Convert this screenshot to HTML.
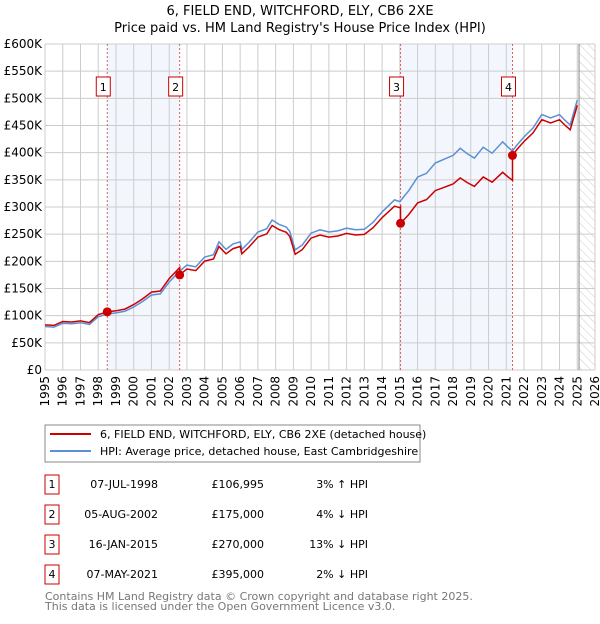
<!DOCTYPE html>
<html><head><meta charset="utf-8"><style>
body{margin:0;background:#fff;font-family:"DejaVu Sans","Liberation Sans",sans-serif}
svg text{font-family:"DejaVu Sans","Liberation Sans",sans-serif}
</style></head><body>
<svg id="c" width="600" height="620" xmlns="http://www.w3.org/2000/svg">
<defs><pattern id="hatch" width="6" height="6" patternUnits="userSpaceOnUse" patternTransform="rotate(-45)"><line x1="0" y1="0" x2="0" y2="6" stroke="#ccc" stroke-width="1"/></pattern></defs>
<text x="300" y="15" text-anchor="middle" font-size="13">6, FIELD END, WITCHFORD, ELY, CB6 2XE</text>
<text x="300" y="32" text-anchor="middle" font-size="13">Price paid vs. HM Land Registry's House Price Index (HPI)</text>
<g id="plot"></g>
<g>
<rect x="45" y="425" width="375" height="37" fill="#fff" stroke="#888"/>
<line x1="50" y1="434" x2="91" y2="434" stroke="#cc0000" stroke-width="2"/>
<text x="100" y="438" font-size="11">6, FIELD END, WITCHFORD, ELY, CB6 2XE (detached house)</text>
<line x1="50" y1="451" x2="91" y2="451" stroke="#5b8fd6" stroke-width="2"/>
<text x="100" y="455" font-size="11">HPI: Average price, detached house, East Cambridgeshire</text>
</g>
<g id="table"></g>
<text x="45" y="600" font-size="11" fill="#777">Contains HM Land Registry data © Crown copyright and database right 2025.</text>
<text x="45" y="610" font-size="11" fill="#777">This data is licensed under the Open Government Licence v3.0.</text>
</svg>
<script>
const hpiYears=[1995,1995.5,1996,1996.5,1997,1997.5,1998,1998.5,1999,1999.5,2000,2000.5,2001,2001.5,2002,2002.6,2003,2003.5,2004,2004.5,2004.8,2005.2,2005.6,2006,2006.1,2006.5,2007,2007.5,2007.8,2008.2,2008.6,2008.8,2009.1,2009.5,2010,2010.5,2011,2011.5,2012,2012.5,2013,2013.5,2014,2014.7,2015,2015.5,2016,2016.5,2017,2017.5,2018,2018.4,2018.8,2019.2,2019.7,2020.2,2020.8,2021.1,2021.35,2021.6,2022,2022.5,2023,2023.5,2024,2024.3,2024.6,2025.0];
const hpiValues=[80,79,86,85,87,84,98,103,105,108,116,126,138,140,162,182,193,190,208,212,236,222,232,236,222,235,254,260,276,268,263,255,221,230,252,258,254,256,261,258,259,272,291,313,310,330,355,362,381,388,395,408,398,390,410,399,420,410,403,414,429,445,470,464,470,460,451,497];
const saleYears=[1998.51,2002.59,2015.04,2021.35];
const salePrices=[106995,175000,270000,395000];
const saleLabels=["1","2","3","4"];
const saleDates=["07-JUL-1998","05-AUG-2002","16-JAN-2015","07-MAY-2021"];
const salePriceText=["£106,995","£175,000","£270,000","£395,000"];
const saleHpiText=["3% ↑ HPI","4% ↓ HPI","13% ↓ HPI","2% ↓ HPI"];
const yTicks=[0,50,100,150,200,250,300,350,400,450,500,550,600];
const yTickLabels=["£0","£50K","£100K","£150K","£200K","£250K","£300K","£350K","£400K","£450K","£500K","£550K","£600K"];
const xTicks=[1995,1996,1997,1998,1999,2000,2001,2002,2003,2004,2005,2006,2007,2008,2009,2010,2011,2012,2013,2014,2015,2016,2017,2018,2019,2020,2021,2022,2023,2024,2025,2026];

const X0=45,X1=595,Y0=370,Y1=44,T0=1995,T1=2026,V1=600;
const xs=t=>X0+(t-T0)/(T1-T0)*(X1-X0);
const ys=v=>Y0-v/V1*(Y0-Y1);
const NS="http://www.w3.org/2000/svg";
const plot=document.getElementById('plot');
function mk(tag,attrs,parent,name){const e=document.createElementNS(NS,tag);for(const k in attrs)e.setAttribute(k,attrs[k]);


(parent||plot).appendChild(e);return e;}
function hpiAt(t){if(t<=hpiYears[0])return hpiValues[0];for(let i=1;i<hpiYears.length;i++){if(t<=hpiYears[i]){const f=(t-hpiYears[i-1])/(hpiYears[i]-hpiYears[i-1]);return hpiValues[i-1]+f*(hpiValues[i]-hpiValues[i-1]);}}return hpiValues[hpiValues.length-1];}
for(let i=0;i<saleYears.length;i+=2){mk('rect',{x:xs(saleYears[i]),y:Y1,width:xs(saleYears[i+1])-xs(saleYears[i]),height:Y0-Y1,fill:'#eef3fc',opacity:0.7},plot,'shaded-period');}
const lastT=2025.1;
mk('rect',{x:xs(lastT),y:Y1,width:X1-xs(lastT),height:Y0-Y1,fill:'url(#hatch)'},plot,'forecast-hatch');
xTicks.forEach((t,i)=>{mk('line',{x1:xs(t),x2:xs(t),y1:Y1,y2:Y0,stroke:'#ccc','stroke-width':1},plot,'x-gridline');
const tx=mk('text',{x:0,y:0,'font-size':12,'text-anchor':'end',transform:`translate(${xs(t)+4},${Y0+6}) rotate(-90)`},plot,'x-tick-label');tx.textContent=t;});
yTicks.forEach((v,i)=>{mk('line',{x1:X0,x2:X1,y1:ys(v),y2:ys(v),stroke:'#ccc','stroke-width':1},plot,'y-gridline');
const tx=mk('text',{x:X0-3,y:ys(v)+4,'font-size':12,'text-anchor':'end'},plot,'y-tick-label');tx.textContent=yTickLabels[i];});
mk('line',{x1:xs(lastT),x2:xs(lastT),y1:Y1,y2:Y0,stroke:'#888','stroke-width':1},plot,'latest-data-line');
saleYears.forEach((t,i)=>{mk('line',{x1:xs(t),x2:xs(t),y1:Y1,y2:Y0,stroke:'#e06060','stroke-width':1,'stroke-dasharray':'2,2'},plot,'sale-marker-line');
mk('rect',{x:xs(t)-11,y:77,width:14,height:19,fill:'#fff',stroke:'#cc0000'},plot,'sale-label-box');
const tx=mk('text',{x:xs(t)-4,y:91,'font-size':11,'text-anchor':'middle'},plot,'sale-label');tx.textContent=saleLabels[i];});
let d='';hpiYears.forEach((t,i)=>{d+=(i?'L':'M')+xs(t).toFixed(1)+','+ys(hpiValues[i]).toFixed(1);});
mk('path',{d:d,fill:'none',stroke:'#5b8fd6','stroke-width':1.5},plot,'hpi-line');
function seg(k){return salePrices[k]/1000/hpiAt(saleYears[k]);}
let pd='';let ts=[...hpiYears,...saleYears].sort((a,b)=>a-b);
let started=false;
ts.forEach(t=>{let k=0;for(let j=0;j<saleYears.length;j++)if(t>=saleYears[j])k=j;
if(saleYears.includes(t)&&k>0){const vprev=hpiAt(t)*seg(k-1);pd+='L'+xs(t).toFixed(1)+','+ys(vprev).toFixed(1);}
const v=hpiAt(t)*seg(k);pd+=(started?'L':'M')+xs(t).toFixed(1)+','+ys(v).toFixed(1);started=true;});
mk('path',{d:pd,fill:'none',stroke:'#cc0000','stroke-width':1.5},plot,'price-line');
saleYears.forEach((t,i)=>{mk('circle',{cx:xs(t),cy:ys(salePrices[i]/1000),r:4.5,fill:'#cc0000'},plot,'sale-point');});
const tb=document.getElementById('table');
saleYears.forEach((t,i)=>{const cy=484+i*30;
mk('rect',{x:45,y:cy-9,width:14,height:19,fill:'#fff',stroke:'#cc0000'},tb,'row-number-box');
let e=mk('text',{x:52,y:cy+4,'font-size':11,'text-anchor':'middle'},tb,'row-number');e.textContent=saleLabels[i];
e=mk('text',{x:158,y:cy+4,'font-size':11,'text-anchor':'end'},tb,'sale-date');e.textContent=saleDates[i];
e=mk('text',{x:264,y:cy+4,'font-size':11,'text-anchor':'end'},tb,'sale-price');e.textContent=salePriceText[i];
e=mk('text',{x:368,y:cy+4,'font-size':11,'text-anchor':'end'},tb,'sale-hpi-diff');e.textContent=saleHpiText[i];});
</script>
</body></html>
